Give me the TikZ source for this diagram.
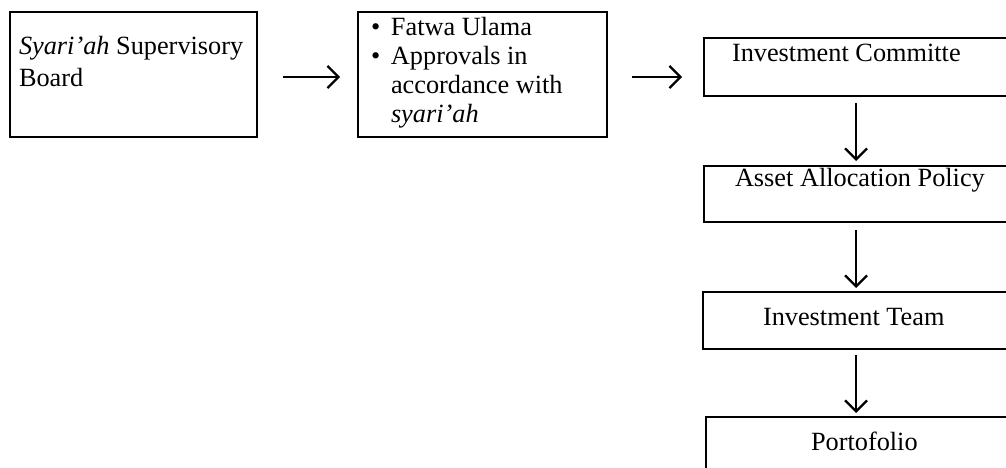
\documentclass[tikz,border=0pt]{standalone}
\usepackage{fontspec}
\setmainfont{Liberation Serif}
\usetikzlibrary{arrows.meta}
\tikzset{
  box/.style={draw, line width=2.2pt, inner sep=0pt, outer sep=0pt, anchor=north west},
  txt/.style={inner sep=0pt, outer sep=0pt, anchor=base west, font=\fontsize{26.3}{30}\selectfont},
  arr/.style={line width=2pt, -{Straight Barb[length=11pt,width=22pt,line width=2.3pt]}}
}
\begin{document}
\begin{tikzpicture}[x=1pt,y=-1pt]
\useasboundingbox (0,0) rectangle (1006,468);
\clip (0,0) rectangle (1006,468);
% boxes
\node[box, minimum width=247pt, minimum height=125pt] (sb) at (10,12) {};
\node[box, minimum width=249pt, minimum height=125pt] (fw) at (358,12) {};
\node[box, minimum width=310pt, minimum height=58pt] (ic) at (704,38) {};
\node[box, minimum width=310pt, minimum height=56pt] (aa) at (704,166) {};
\node[box, minimum width=311pt, minimum height=57pt] (it) at (703,292) {};
\node[box, minimum width=308pt, minimum height=80pt] (pf) at (706,417) {};
% texts
\node[txt] (sb1) at (19,55) {\textit{Syari’ah} Supervisory};
\node[txt] (sb2) at (19,87) {Board};
\node[txt] (fw1) at (371,36) {\makebox[20pt][l]{•}Fatwa Ulama};
\node[txt] (fw2) at (371,65) {\makebox[20pt][l]{•}Approvals in};
\node[txt] (fw3) at (391,94) {accordance with};
\node[txt] (fw4) at (391,123) {\textit{syari’ah}};
\node[txt] (ict) at (732,62) {Investment Committe};
\node[txt] (aat) at (735,186) {Asset Allocation Policy};
\node[txt] (itt) at (763,325) {Investment Team};
\node[txt] (pft) at (811,450) {Portofolio};
% connectors
\draw[arr, shorten <=26pt, shorten >=18pt] ([yshift=-2.5pt]sb.east) -- ([yshift=-2.5pt]fw.west);
\draw[arr, shorten <=25pt, shorten >=22pt] ([yshift=-2.5pt]fw.east) -- ([yshift=-2.5pt]fw.east -| ic.west);
\draw[arr, shorten <=7pt, shorten >=5pt] ([xshift=-3pt]ic.south) -- ([xshift=-3pt]ic.south |- aa.north);
\draw[arr, shorten <=8pt, shorten >=4pt] ([xshift=-3pt]aa.south) -- ([xshift=-3pt]aa.south |- it.north);
\draw[arr, shorten <=6pt, shorten >=4pt] ([xshift=-2.5pt]it.south) -- ([xshift=-2.5pt]it.south |- pf.north);
\end{tikzpicture}
\end{document}
